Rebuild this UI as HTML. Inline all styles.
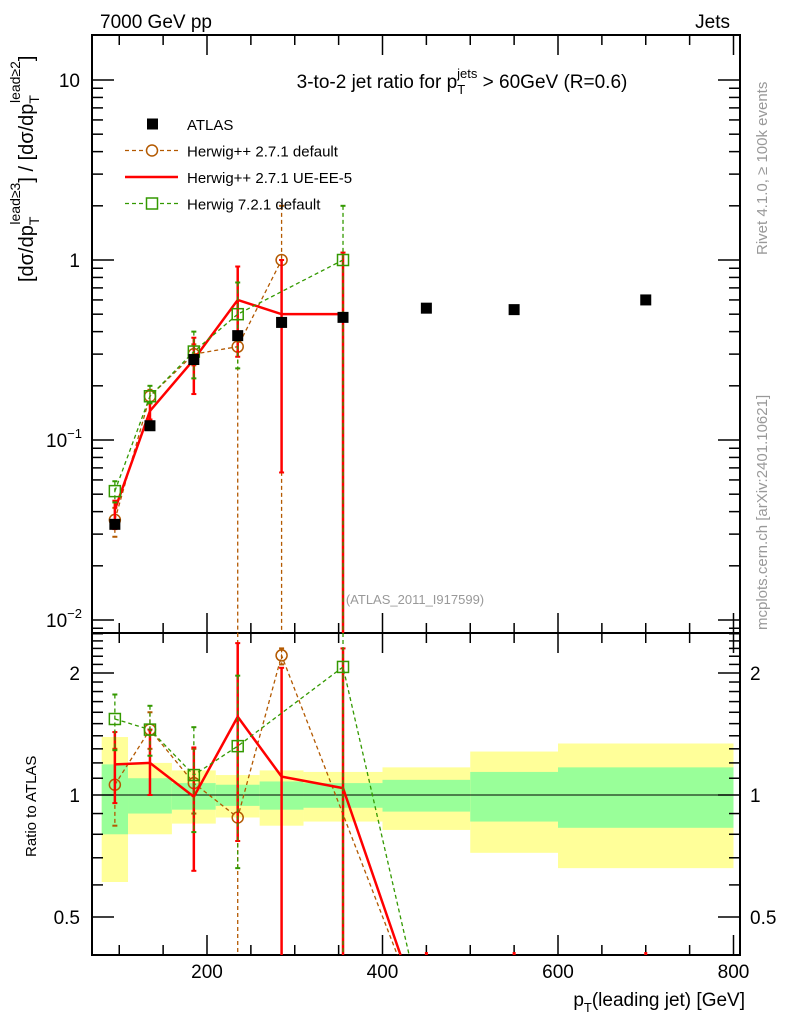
<!DOCTYPE html>
<html><head><meta charset="utf-8"><style>
html,body{margin:0;background:#fff;width:786px;height:1024px;overflow:hidden}
svg{display:block;font-family:"Liberation Sans",sans-serif;overflow:hidden}
</style></head><body>
<svg id="c" width="786" height="1024" viewBox="0 0 786 1024" xmlns="http://www.w3.org/2000/svg">
<g id="bands"></g>
<g id="axes"></g>
<g id="series"></g>
<text x="100" y="28" font-size="19">7000 GeV pp</text>
<text x="730" y="28" font-size="19" text-anchor="end">Jets</text>
<text x="462" y="88" font-size="19" text-anchor="middle">3-to-2 jet ratio for p<tspan font-size="13" dy="6">T</tspan><tspan font-size="13" dy="-16" dx="-8">jets</tspan><tspan dy="10"> &gt; 60GeV (R=0.6)</tspan></text>
<text x="415" y="604" font-size="13" fill="#999" text-anchor="middle">(ATLAS_2011_I917599)</text>
<text transform="translate(767,255) rotate(-90)" font-size="15" fill="#999">Rivet 4.1.0, ≥ 100k events</text>
<text transform="translate(767,630) rotate(-90)" font-size="15" fill="#999">mcplots.cern.ch [arXiv:2401.10621]</text>
<text transform="translate(33,282) rotate(-90)" font-size="20">[dσ/dp<tspan font-size="14" dy="6">T</tspan><tspan font-size="14" dy="-19" dx="-8">lead≥3</tspan><tspan dy="13">] / [dσ/dp</tspan><tspan font-size="14" dy="6">T</tspan><tspan font-size="14" dy="-19" dx="-8">lead≥2</tspan><tspan dy="13">]</tspan></text>
<text transform="translate(36,857) rotate(-90)" font-size="15">Ratio to ATLAS</text>
<text x="745" y="1006" font-size="19" text-anchor="end">p<tspan font-size="13" dy="6">T</tspan><tspan dy="-6">(leading jet) [GeV]</tspan></text>
<g id="legend"></g>
</svg>
<script>
const xs=[95,135,185,235,285,355,450,550,700];
const atlas=[0.034,0.12,0.28,0.38,0.45,0.48,0.54,0.53,0.60];
const binEdges=[80,110,160,210,260,310,400,500,600,800];
const yellowHi=[1.39,1.2,1.15,1.12,1.15,1.14,1.17,1.28,1.34];
const yellowLo=[0.61,0.80,0.85,0.88,0.84,0.86,0.82,0.72,0.66];
const greenHi=[1.19,1.10,1.07,1.06,1.08,1.07,1.09,1.14,1.17];
const greenLo=[0.80,0.90,0.92,0.94,0.92,0.93,0.91,0.86,0.83];
const hppVal=[0.036,0.175,0.30,0.33,1.0,null,0,0,0];
const hppHi=[0.042,0.19,0.34,0.40,2.0,null,0,0,0];
const hppLo=[0.029,0.16,0.26,0.001,0.001,null,0,0,0];
const ueVal=[0.041,0.145,0.28,0.60,0.50,0.50,0,0,0];
const ueHi=[0.046,0.16,0.37,0.92,1.0,1.1,0,0,0];
const ueLo=[0.032,0.13,0.18,0.29,0.066,0.001,0,0,0];
const h7Val=[0.052,0.175,0.31,0.50,null,1.0,0,0,0];
const h7Hi=[0.059,0.20,0.40,0.75,null,2.0,0,0,0];
const h7Lo=[0.045,0.16,0.22,0.25,null,0.001,0,0,0];
const hppR=[1.06,1.45,1.07,0.88,2.21,null,0,0,0];
const hppRHi=[1.3,1.6,1.3,5,2.3,null,0,0,0];
const hppRLo=[0.84,1.3,0.9,0.1,2.1,null,0,0,0];
const ueR=[1.19,1.20,0.99,1.56,1.11,1.04,0,0,0];
const ueRHi=[1.43,1.45,1.31,2.37,2.06,2.3,0,0,0];
const ueRLo=[0.955,1.0,0.65,0.77,0.1,0.1,0,0,0];
const h7R=[1.54,1.45,1.12,1.32,null,2.07,0,0,0];
const h7RHi=[1.77,1.66,1.47,1.97,null,5,0,0,0];
const h7RLo=[1.29,1.25,0.81,0.66,null,0.1,0,0,0];
const mainTicks=[[10,"10"],[1,"1"],[0.1,"10"],[0.01,"10"]];
const ratioTicks=[[2,"2"],[1,"1"],[0.5,"0.5"]];
const xTicks=[200,400,600,800];

const L=92,Rt=740,T=35,MB=633,RB=955;
const X=v=>207+(v-200)*0.8775;
const Y=v=>260-180*Math.log10(v);
const YR=r=>795-122*Math.log2(r);
const NS="http://www.w3.org/2000/svg";
function mk(tag,attrs,parent){const e=document.createElementNS(NS,tag);for(const k in attrs)e.setAttribute(k,attrs[k]);parent.appendChild(e);return e;}
const svg=document.getElementById('c');

const bands=document.getElementById('bands');
for(let i=0;i<yellowHi.length;i++){
 const x0=X(binEdges[i]),x1=X(binEdges[i+1]);
 const y=mk('rect',{x:x0,y:YR(yellowHi[i]),width:x1-x0,height:YR(yellowLo[i])-YR(yellowHi[i]),fill:'#ffff99'},bands);
 
 
 const g=mk('rect',{x:x0,y:YR(greenHi[i]),width:x1-x0,height:YR(greenLo[i])-YR(greenHi[i]),fill:'#99ff99'},bands);
 
 
}
const ax=document.getElementById('axes');
mk('line',{x1:L,x2:Rt,y1:YR(1),y2:YR(1),stroke:'#000','stroke-width':1},ax);
const f1=mk('rect',{x:L,y:T,width:Rt-L,height:MB-T,fill:'none',stroke:'#000','stroke-width':2},ax);


const f2=mk('rect',{x:L,y:MB,width:Rt-L,height:RB-MB,fill:'none',stroke:'#000','stroke-width':2},ax);


for(let d=-3;d<=1;d++){for(let m=1;m<10;m++){const v=m*Math.pow(10,d);const y=Y(v);if(y<T||y>MB)continue;const len=m==1?22:11;
 mk('line',{x1:L,x2:L+len,y1:y,y2:y,stroke:'#000','stroke-width':1.5},ax);mk('line',{x1:Rt,x2:Rt-len,y1:y,y2:y,stroke:'#000','stroke-width':1.5},ax);}}
mainTicks.forEach((t,i)=>{const e=mk('text',{x:80,y:Y(t[0])+7,'font-size':19,'text-anchor':'end'},ax);e.textContent=t[1];
 if(i>=2){e.setAttribute('x',82);const s=mk('tspan',{'font-size':13,dy:-9},e);s.textContent=i==2?'−1':'−2';}
 
 });
for(let r=0.4;r<=2.6;r+=0.1){const y=YR(r);if(y<MB||y>RB)continue;const maj=[0.5,1,2].some(q=>Math.abs(q-r)<1e-6);const len=maj?22:11;
 mk('line',{x1:L,x2:L+len,y1:y,y2:y,stroke:'#000','stroke-width':1.5},ax);mk('line',{x1:Rt,x2:Rt-len,y1:y,y2:y,stroke:'#000','stroke-width':1.5},ax);}
ratioTicks.forEach(t=>{[[80,'end'],[750,'start']].forEach(p=>{const e=mk('text',{x:p[0],y:YR(t[0])+7,'font-size':19,'text-anchor':p[1]},ax);e.textContent=t[1];
 
 });});
for(let v=100;v<=800;v+=50){const x=X(v);const maj=v%200==0;const len=maj?20:10;
 [[MB,-1],[T,1],[RB,-1],[MB,1]].forEach(p=>mk('line',{x1:x,x2:x,y1:p[0],y2:p[0]+p[1]*len,stroke:'#000','stroke-width':1.5},ax));}
xTicks.forEach(v=>{const e=mk('text',{x:X(v),y:978,'font-size':19,'text-anchor':'middle'},ax);e.textContent=v;
 
 });

const ser=document.getElementById('series');
function series(vals,hi,lo,yf,top,bot,color,dash,width,marker,name,clampZero){
 const g=mk('g',{},ser);
 
 
 const cl=y=>Math.max(top,Math.min(bot,y));
 const pts=[];
 for(let i=0;i<vals.length;i++){const v=vals[i];if(v===null)continue;
  if(v===0){if(clampZero&&pts.length){const p=pts[pts.length-1];const x=X(xs[i]),yz=1030;
    pts.push([p[0]+(x-p[0])*(bot-p[1])/(yz-p[1]),bot]);}break;}
  pts.push([X(xs[i]),yf(v)]);}
 mk('polyline',{points:pts.map(p=>p.join(',')).join(' '),fill:'none',stroke:color,'stroke-width':width,'stroke-dasharray':dash},g);
 vals.forEach((v,i)=>{if(v===null||v===0)return;const x=X(xs[i]);
  const yh=cl(yf(hi[i])),yl=cl(yf(lo[i]));
  mk('line',{x1:x,x2:x,y1:yh,y2:yl,stroke:color,'stroke-width':width,'stroke-dasharray':dash},g);
  if(yh>top)mk('line',{x1:x-2.5,x2:x+2.5,y1:yh,y2:yh,stroke:color,'stroke-width':2},g);
  if(yl<bot)mk('line',{x1:x-2.5,x2:x+2.5,y1:yl,y2:yl,stroke:color,'stroke-width':2},g);
  const y=yf(v);
  if(marker=='circle')mk('circle',{cx:x,cy:y,r:5.5,fill:'none',stroke:color,'stroke-width':1.5},g);
  if(marker=='square')mk('rect',{x:x-5.5,y:y-5.5,width:11,height:11,fill:'none',stroke:color,'stroke-width':1.5},g);});
}
series(hppVal,hppHi,hppLo,Y,T,MB,'#b35900','4,3',1.3,'circle','herwigpp-default-main',false);
series(ueVal,ueHi,ueLo,Y,T,MB,'#ff0000','',2.5,'none','herwigpp-ue-ee5-main',false);
series(h7Val,h7Hi,h7Lo,Y,T,MB,'#339900','4,3',1.3,'square','herwig7-default-main',false);
series(hppR,hppRHi,hppRLo,YR,MB,RB,'#b35900','4,3',1.3,'circle','herwigpp-default-ratio',true);
series(ueR,ueRHi,ueRLo,YR,MB,RB,'#ff0000','',2.5,'none','herwigpp-ue-ee5-ratio',true);
series(h7R,h7RHi,h7RLo,YR,MB,RB,'#339900','4,3',1.3,'square','herwig7-default-ratio',true);
atlas.forEach((v,i)=>{const r=mk('rect',{x:X(xs[i])-5.5,y:Y(v)-5.5,width:11,height:11,fill:'#000'},ser);
 
 });
[450,550,700].forEach(v=>mk('rect',{x:X(v)-1.5,y:RB-3,width:3,height:3,fill:'#f00'},ser));
const lg=document.getElementById('legend');
const items=[['ATLAS','#000','','sq'],['Herwig++ 2.7.1 default','#b35900','4,3','circle'],['Herwig++ 2.7.1 UE-EE-5','#ff0000','','none'],['Herwig 7.2.1 default','#339900','4,3','square']];
items.forEach((it,i)=>{const y=124+i*26.5;const g=mk('g',{},lg);
 
 
 if(it[3]=='sq')mk('rect',{x:147,y:y-5.5,width:11,height:11,fill:'#000'},g);
 else{mk('line',{x1:125,x2:178,y1:y,y2:y,stroke:it[1],'stroke-width':it[3]=='none'?2.5:1.3,'stroke-dasharray':it[2]},g);
  if(it[3]=='circle')mk('circle',{cx:152,cy:y,r:5.5,fill:'#fff',stroke:it[1],'stroke-width':1.5},g);
  if(it[3]=='square')mk('rect',{x:146.5,y:y-5.5,width:11,height:11,fill:'#fff',stroke:it[1],'stroke-width':1.5},g);}
 const t=mk('text',{x:187,y:y+6,'font-size':15},g);t.textContent=it[0];});
</script>
</body></html>
